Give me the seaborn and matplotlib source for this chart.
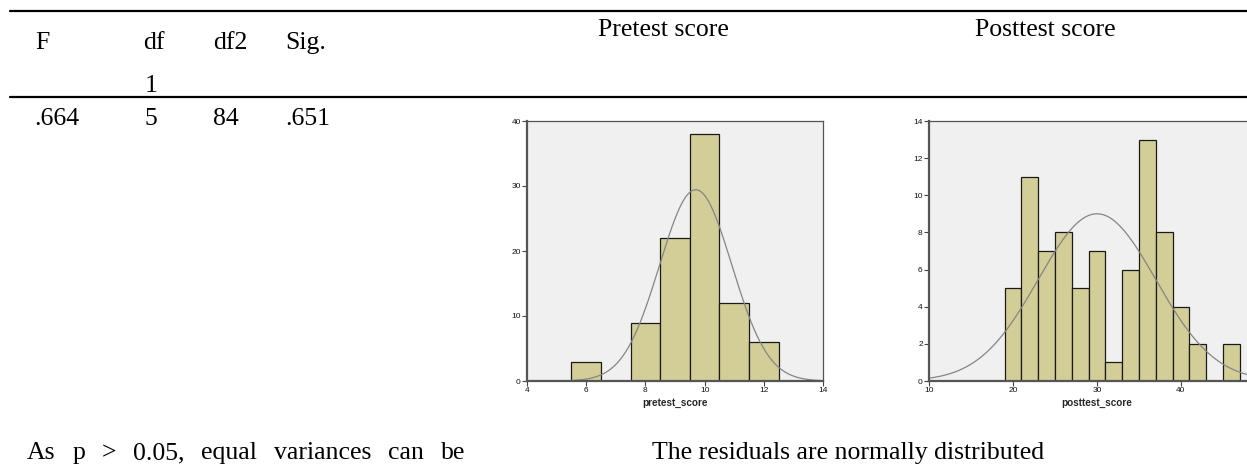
import numpy as np
import pandas as pd
import matplotlib
matplotlib.use('Agg')
import matplotlib.pyplot as plt
from matplotlib.lines import Line2D
import seaborn as sns

# table values
header = ['F', 'df', 'df2', 'Sig.']
row = ['.664', '5', '84', '.651']

# pretest histogram (bin width 1)
pre_edges = [5.5, 6.5, 7.5, 8.5, 9.5, 10.5, 11.5, 12.5]
pre_counts = [3, 0, 9, 22, 38, 12, 6]
pre_mean, pre_sd = 9.7, 1.22

# posttest histogram (bin width 2)
post_edges = [19, 21, 23, 25, 27, 29, 31, 33, 35, 37, 39, 41, 43, 45, 47]
post_counts = [5, 11, 7, 8, 5, 7, 1, 6, 13, 8, 4, 2, 0, 2]
post_mean, post_sd = 30.0, 7.0

note_left = ['As', 'p', '>', '0.05,', 'equal', 'variances', 'can', 'be']
note_right = 'The residuals are normally distributed'

W, H = 1247, 468
sns.set_style('ticks')
plt.rcParams['font.family'] = ['Liberation Serif', 'DejaVu Serif']

fig = plt.figure(figsize=(W / 100, H / 100), dpi=100)

def fx(px):
    return px / W

def fy(py):
    return 1 - py / H

serif = dict(family='Liberation Serif', size=18.5, color='black')

# rules of the table
for yy in (11, 97):
    fig.add_artist(Line2D([fx(10), 1.0], [fy(yy), fy(yy)], transform=fig.transFigure,
                          color='black', lw=1.6))

col_x = [35, 143, 213, 285]
for x, h in zip(col_x, header):
    fig.text(fx(x), fy(49), h, va='baseline', ha='left', **serif)
fig.text(fx(145), fy(92), '1', va='baseline', ha='left', **serif)
row_x = [34, 145, 213, 285]
for x, v in zip(row_x, row):
    fig.text(fx(x), fy(125), v, va='baseline', ha='left', **serif)

fig.text(fx(663), fy(36), 'Pretest score', va='baseline', ha='center', **serif)
fig.text(fx(1045), fy(36), 'Posttest score', va='baseline', ha='center', **serif)


def spss_hist(ax, edges, counts, mean, sd, xlim, ylim, xticks, yticks, label):
    e = np.array(edges, dtype=float)
    centers = (e[:-1] + e[1:]) / 2
    df = pd.DataFrame({'x': centers, 'n': counts})
    sns.histplot(data=df, x='x', weights='n', bins=list(edges), ax=ax,
                 color='#D3CE97', edgecolor='#1a1a1a', linewidth=0.9, alpha=1)
    bw = e[1] - e[0]
    xs = np.linspace(xlim[0], xlim[1], 400)
    ys = sum(counts) * bw / (sd * np.sqrt(2 * np.pi)) * np.exp(-0.5 * ((xs - mean) / sd) ** 2)
    ax.plot(xs, ys, color='#858585', lw=0.9)
    ax.set_facecolor('#F0F0F0')
    ax.set_xlim(*xlim)
    ax.set_ylim(*ylim)
    ax.set_xticks(xticks)
    ax.set_yticks(yticks)
    ax.set_ylabel('')
    ax.set_xlabel(label, family='Liberation Sans', weight='bold', size=7.2, labelpad=3)
    ax.tick_params(length=3.5, width=0.8, color='#444444', labelsize=6,
                   labelcolor='#111111', pad=1)
    for lab in ax.get_xticklabels() + ax.get_yticklabels():
        lab.set_family('Liberation Sans')
    for s in ('left', 'bottom'):
        ax.spines[s].set_color('#555555')
        ax.spines[s].set_linewidth(1.6)
    for s in ('top', 'right'):
        ax.spines[s].set_visible(True)
        ax.spines[s].set_color('#555555')
        ax.spines[s].set_linewidth(0.9)


ax1 = fig.add_axes([fx(527), fy(381), fx(296), 260 / H])
spss_hist(ax1, pre_edges, pre_counts, pre_mean, pre_sd, (4, 14), (0, 40),
          [4, 6, 8, 10, 12, 14], [0, 10, 20, 30, 40], 'pretest_score')

# right panel runs past the page edge, as in the source
ax2 = fig.add_axes([fx(929), fy(381), fx(336), 260 / H])
spss_hist(ax2, post_edges, post_counts, post_mean, post_sd, (10, 50), (0, 14),
          [10, 20, 30, 40], list(range(0, 15, 2)), 'posttest_score')

# justified note on the left
renderer = fig.canvas.get_renderer()
items = [fig.text(0, fy(459), w, va='baseline', ha='left', **serif) for w in note_left]
widths = [t.get_window_extent(renderer).width for t in items]
x0, x1 = 27, 465
gap = (x1 - x0 - sum(widths)) / (len(items) - 1)
cur = x0
for t, w in zip(items, widths):
    t.set_x(fx(cur))
    cur += w + gap

fig.text(fx(652), fy(459), note_right, va='baseline', ha='left', **serif)

fig.savefig('out.png', dpi=100)
